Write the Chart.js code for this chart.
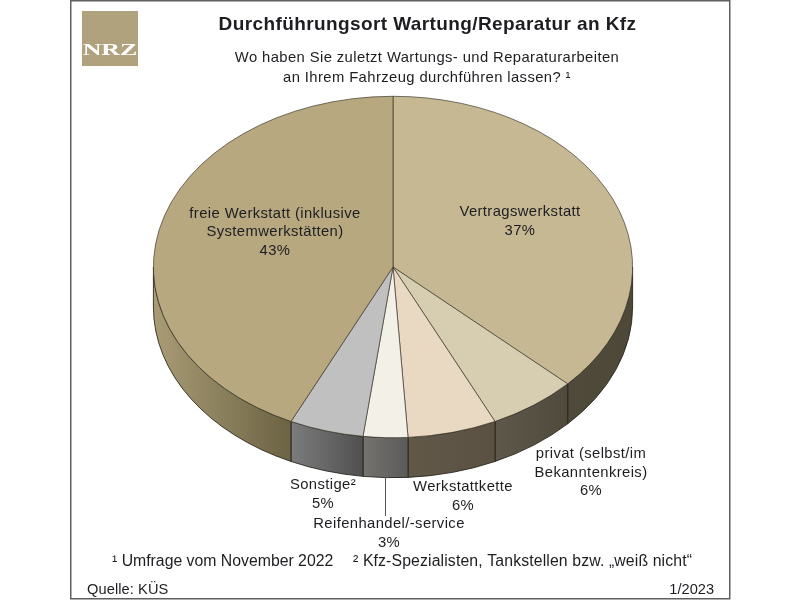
<!DOCTYPE html>
<html lang="de">
<head>
<meta charset="utf-8">
<title>Durchführungsort Wartung/Reparatur an Kfz</title>
<script src="https://cdn.jsdelivr.net/npm/chart.js@4/dist/chart.umd.js"></script>
<style>
  html, body { margin: 0; background: #fff; }
  canvas { display: block; }
</style>
</head>
<body>
<canvas id="chart" width="800" height="600"></canvas>
<script>
// data, clockwise from the top of the pie
const categories = [
  ["Vertragswerkstatt"],
  ["privat (selbst/im", "Bekanntenkreis)"],
  ["Werkstattkette"],
  ["Reifenhandel/-service"],
  ["Sonstige²"],
  ["freie Werkstatt (inklusive", "Systemwerkstätten)"],
];
const shares = [37, 6, 6, 3, 5, 43];

const titleText = "Durchführungsort Wartung/Reparatur an Kfz";
const questionLines = [
  "Wo haben Sie zuletzt Wartungs- und Reparaturarbeiten",
  "an Ihrem Fahrzeug durchführen lassen? ¹",
];
const footnoteOne = "¹ Umfrage vom November 2022";
const footnoteTwo = "² Kfz-Spezialisten, Tankstellen bzw. „weiß nicht“";
const sourceText = "Quelle: KÜS";
const dateText = "1/2023";

// styles
const topColors = ["#C5B892", "#D7CDB0", "#E9D9C3", "#F3F0E8", "#C0C0C0", "#B7A87F"];
const sideColors = [
  ["#4F4A3A", "#4D4838"],
  ["#5E584A", "#4F4A3C"],
  ["#615848", "#5A5143"],
  ["#75736D", "#5A5A5A"],
  ["#7C7C7C", "#505050"],
  ["#A99C75", "#6C6344"],
];
const labelCenters = [
  [520, 212],
  [591, 454],
  [463, 487],
  [389, 524],
  [323, 485],
  [275, 213.5],
];
const LINE_HEIGHT = 18.5;
const SQUASH = 171 / 240;
const DEPTH = 40;
const TEXT_COLOR = "#1d1d22";

const drawText = (ctx, text, x, y, font, align = "center", spacing = "0px") => {
  ctx.font = font;
  ctx.textAlign = align;
  ctx.textBaseline = "middle";
  ctx.letterSpacing = spacing;
  ctx.fillStyle = TEXT_COLOR;
  ctx.fillText(text, x, y);
};

// squashes the pie into an ellipse and extrudes the visible rim
const tiltedPie = {
  id: "tiltedPie",
  beforeDatasetsDraw(chart) {
    const { ctx } = chart;
    const arcs = chart.getDatasetMeta(0).data;
    const { x, y } = arcs[0];
    ctx.save();
    ctx.translate(x, y);
    ctx.scale(1, SQUASH);
    ctx.translate(-x, -y);
    const depth = DEPTH / SQUASH;
    arcs.forEach((arc, i) => {
      const r = arc.outerRadius;
      const start = Math.max(arc.startAngle, 0);
      const end = Math.min(arc.endAngle, Math.PI);
      if (start >= end) return;
      const x0 = x + r * Math.cos(end);
      const x1 = x + r * Math.cos(start);
      const gradient = ctx.createLinearGradient(x0, 0, x1, 0);
      gradient.addColorStop(0, sideColors[i][0]);
      gradient.addColorStop(1, sideColors[i][1]);
      ctx.beginPath();
      ctx.arc(x, y, r, start, end);
      ctx.arc(x, y + depth, r, end, start, true);
      ctx.closePath();
      ctx.fillStyle = gradient;
      ctx.fill();
      ctx.lineWidth = 1;
      ctx.strokeStyle = "#25221b";
      ctx.stroke();
    });
  },
  afterDatasetsDraw(chart) {
    chart.ctx.restore();
  },
  afterDraw(chart) {
    const { ctx } = chart;
    const arcs = chart.getDatasetMeta(0).data;

    // frame
    ctx.strokeStyle = "#5f5f5f";
    ctx.lineWidth = 1.5;
    ctx.strokeRect(70.75, 0.75, 659, 598);

    // logo
    ctx.fillStyle = "#AFA27C";
    ctx.fillRect(82, 11, 56, 55);
    ctx.save();
    ctx.translate(110, 51);
    ctx.scale(1.62, 1);
    ctx.font = "bold 16px 'Liberation Serif'";
    ctx.textAlign = "center";
    ctx.textBaseline = "middle";
    ctx.letterSpacing = "0px";
    ctx.fillStyle = "#fff";
    ctx.fillText("NRZ", 0, 0);
    ctx.restore();

    // headings
    drawText(ctx, titleText, 427.5, 25, "bold 19px 'Liberation Sans'", "center", "0.4px");
    questionLines.forEach((line, i) => {
      drawText(ctx, line, 427, 57.5 + i * 20, "14.8px 'Liberation Sans'", "center", "0.4px");
    });

    // leader line for the narrow slice
    const small = arcs[3];
    const mid = (small.startAngle + small.endAngle) / 2;
    const lx = Math.round(small.x + small.outerRadius * Math.cos(mid)) + 0.5;
    const ly = small.y + small.outerRadius * SQUASH * Math.sin(mid) + DEPTH;
    ctx.strokeStyle = "#555";
    ctx.lineWidth = 1;
    ctx.beginPath();
    ctx.moveTo(lx, ly);
    ctx.lineTo(lx, labelCenters[3][1] - 8);
    ctx.stroke();

    // slice labels
    categories.forEach((lines, i) => {
      const [cx, cy] = labelCenters[i];
      [...lines, `${shares[i]}%`].forEach((line, j) => {
        drawText(ctx, line, cx, cy + j * LINE_HEIGHT, "14.8px 'Liberation Sans'", "center", "0.4px");
      });
    });

    // notes
    drawText(ctx, footnoteOne, 112, 562, "15.8px 'Liberation Sans'", "left", "0px");
    drawText(ctx, footnoteTwo, 353, 562, "15.8px 'Liberation Sans'", "left", "0.13px");
    drawText(ctx, sourceText, 87, 590, "14.6px 'Liberation Sans'", "left", "0.1px");
    drawText(ctx, dateText, 714, 590, "14.6px 'Liberation Sans'", "right", "0px");
  },
};

new Chart(document.getElementById("chart"), {
  type: "pie",
  data: {
    labels: categories.map((lines) => lines.join(" ")),
    datasets: [
      {
        data: shares,
        backgroundColor: topColors,
        borderColor: "#3a362a",
        borderWidth: 0.8,
      },
    ],
  },
  options: {
    responsive: false,
    animation: false,
    layout: { padding: { left: 153, right: 167, top: 27, bottom: 93 } },
    plugins: {
      legend: { display: false },
      tooltip: { enabled: false },
    },
  },
  plugins: [tiltedPie],
});
</script>
</body>
</html>
